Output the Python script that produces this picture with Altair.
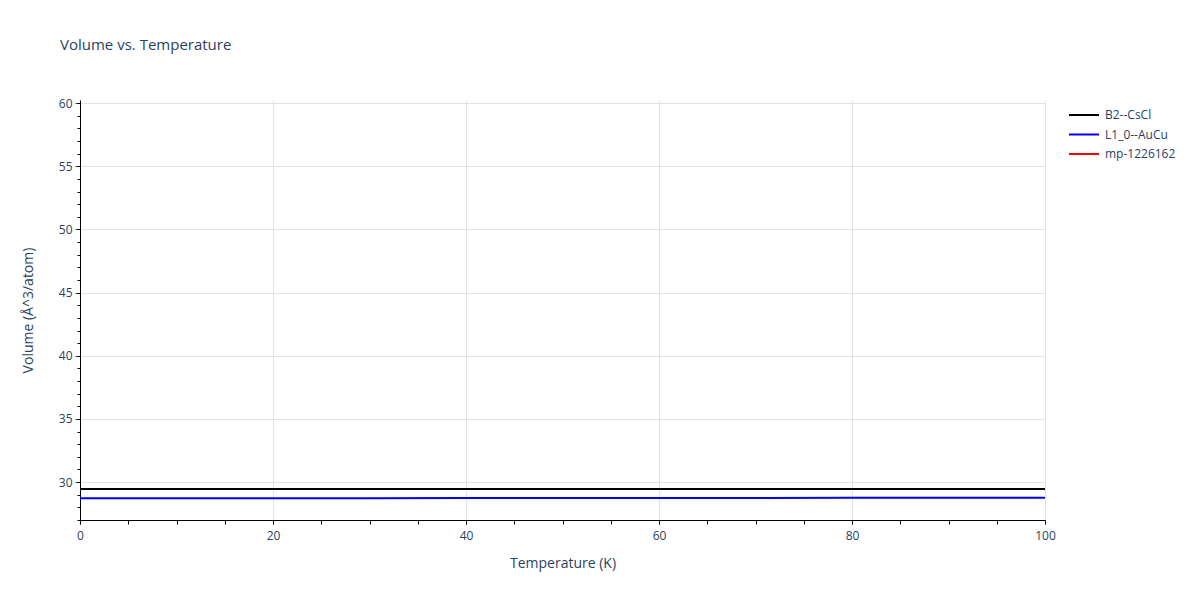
import altair as alt
import pandas as pd

temps = [0, 10, 20, 30, 40, 50, 60, 70, 80, 90, 100]
b2_cscl = [29.45, 29.45, 29.45, 29.45, 29.45, 29.45, 29.45, 29.45, 29.45, 29.45, 29.45]
l10_aucu = [28.72, 28.72, 28.73, 28.73, 28.74, 28.74, 28.75, 28.75, 28.76, 28.76, 28.77]

series_names = ["B2--CsCl", "L1_0--AuCu", "mp-1226162"]
series_colors = ["black", "blue", "red"]

x_major = [0, 20, 40, 60, 80, 100]
x_minor = [0, 5, 10, 15, 20, 25, 30, 35, 40, 45, 50, 55, 60, 65, 70, 75, 80, 85, 90, 95, 100]
y_major = [30, 35, 40, 45, 50, 55, 60]
y_minor = list(range(27, 61))

rows = []
for t, v in zip(temps, b2_cscl):
    rows.append({"T": t, "V": v, "series": "B2--CsCl"})
for t, v in zip(temps, l10_aucu):
    rows.append({"T": t, "V": v, "series": "L1_0--AuCu"})
df = pd.DataFrame(rows)

FONT = "Open Sans"
TXT = "#2a3f5f"

xscale = alt.Scale(domain=[0, 100], nice=False, zero=False)
yscale = alt.Scale(domain=[27, 60.25], nice=False, zero=False)

lines = alt.Chart(df).mark_line(strokeWidth=2, clip=True).encode(
    x=alt.X("T:Q", scale=xscale, axis=alt.Axis(
        values=x_major, title="Temperature (K)", grid=True, gridColor="#e2e2e2",
        domainColor="black", domainWidth=1, tickColor="#cccccc", tickSize=5,
        labelFont=FONT, labelFontSize=12, labelColor=TXT, labelPadding=5, labelFlush=False,
        titleFont=FONT, titleFontSize=14, titleColor=TXT, titleFontWeight="normal",
        titlePadding=15, orient="bottom")),
    y=alt.Y("V:Q", scale=yscale, axis=alt.Axis(
        values=y_major, title="Volume (Å^3/atom)", grid=True, gridColor="#e2e2e2",
        domainColor="black", domainWidth=1, tickColor="#444444", tickSize=5,
        labelFont=FONT, labelFontSize=12, labelColor=TXT, labelPadding=3, labelFlush=False,
        titleFont=FONT, titleFontSize=14, titleColor=TXT, titleFontWeight="normal",
        titlePadding=23, orient="left")),
    color=alt.Color("series:N", scale=alt.Scale(domain=series_names, range=series_colors),
                    legend=alt.Legend(title=None, orient="none", legendX=988, legendY=9,
                                      symbolType="stroke", symbolSize=900, symbolStrokeWidth=2,
                                      clipHeight=12, rowPadding=7.5,
                                      labelFont=FONT, labelFontSize=12, labelColor=TXT,
                                      labelOffset=5)),
)

minor = alt.Chart(df).mark_line(opacity=0).encode(
    x=alt.X("T:Q", axis=alt.Axis(values=x_minor, orient="bottom", labels=False, grid=False,
                                 domain=False, tickColor="black", tickSize=4, title=None)),
    y=alt.Y("V:Q", axis=alt.Axis(values=y_minor, orient="left", labels=False, grid=False,
                                 domain=False, tickColor="black", tickSize=3, title=None)),
    detail="series:N",
)

chart = alt.layer(lines, minor).resolve_axis(x="independent", y="independent").properties(
    width=965, height=420,
    autosize="none",
    padding={"left": 72, "top": 92, "right": 140, "bottom": 70},
    title=alt.TitleParams("Volume vs. Temperature", anchor="start", frame="group", dx=-20,
                          offset=44, font=FONT, fontSize=15, fontWeight="normal", color=TXT),
).configure_view(stroke=None)

chart.save("out.html", embed_options={"renderer": "svg", "actions": False})
